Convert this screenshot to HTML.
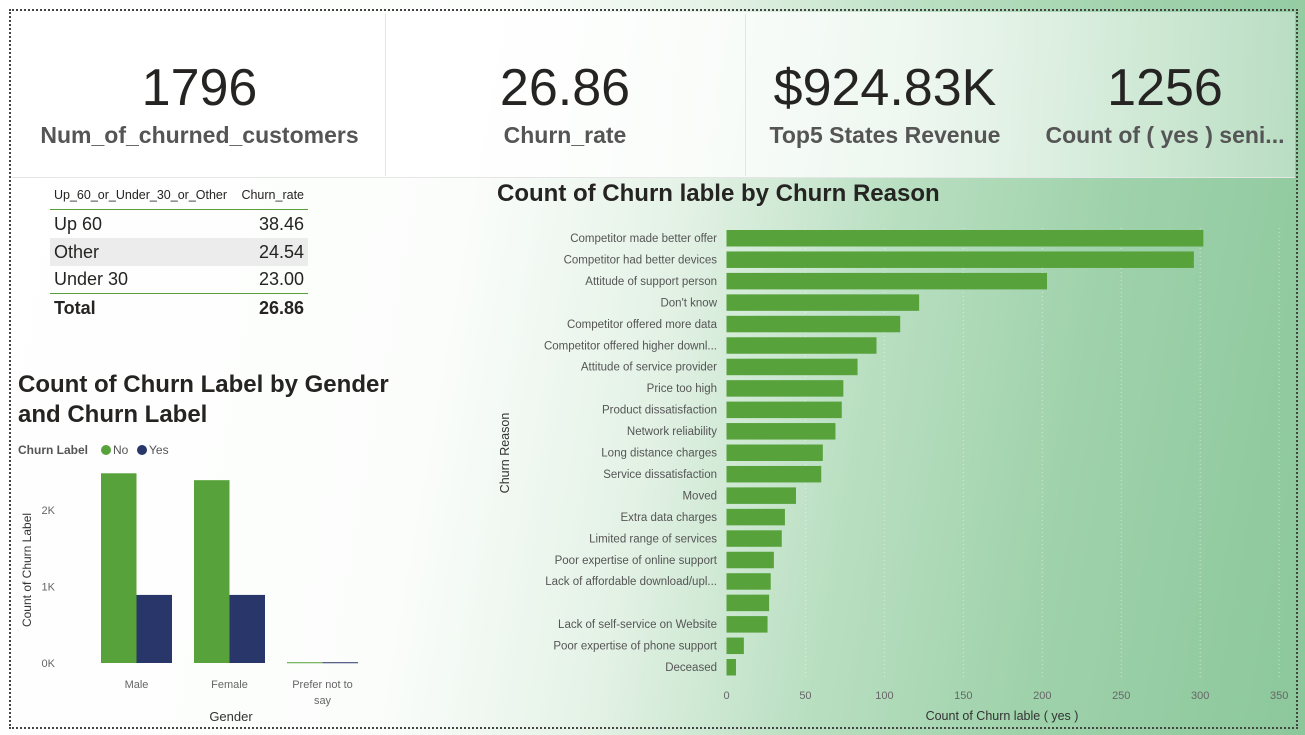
<!DOCTYPE html>
<html><head><meta charset="utf-8"><style>
*{margin:0;padding:0;box-sizing:border-box}
body{width:1305px;height:735px;overflow:hidden;font-family:"Liberation Sans",sans-serif;position:relative;
background:linear-gradient(100deg,#ffffff 0%,#fbfdfb 35%,#e4f2e6 50%,#b9dfc1 65%,#9fd2ab 80%,#8cc79b 100%);}
.frame{position:absolute;left:9px;top:9px;width:1289px;height:720px;border:2px dotted #444;}
.kpi{position:absolute;top:12px;height:165px;text-align:center}
.kv{position:absolute;top:46px;width:100%;font-size:52px;color:#252423;letter-spacing:0px}
.kl{position:absolute;top:110px;width:100%;font-size:23px;font-weight:bold;color:#555}
.sep{position:absolute;top:14px;width:1px;height:162px;background:#e5e5e5}
.tbl{position:absolute;left:50px;top:180px;width:258px;font-size:18px;color:#252423}
.tbl .r{height:28px;display:flex;justify-content:space-between;align-items:center;padding:0 4px}
.title{position:absolute;font-weight:bold;color:#252423;font-size:24px}
</style></head><body>
<div class="frame"></div>
<div style="position:absolute;left:12px;top:12px;width:1283px;height:165px;background:linear-gradient(90deg,rgba(255,255,255,.95),rgba(255,255,255,.75) 70%,rgba(255,255,255,.35))"></div>
<div class="kpi" style="left:12px;width:375px"><div class="kv">1796</div><div class="kl">Num_of_churned_customers</div></div>
<div class="sep" style="left:385px"></div>
<div class="kpi" style="left:385px;width:360px"><div class="kv">26.86</div><div class="kl">Churn_rate</div></div>
<div class="sep" style="left:745px"></div>
<div class="kpi" style="left:745px;width:280px"><div class="kv">$924.83K</div><div class="kl">Top5 States Revenue</div></div>
<div class="kpi" style="left:1025px;width:280px"><div class="kv">1256</div><div class="kl">Count of ( yes ) seni...</div></div>
<div style="position:absolute;left:12px;top:177px;width:1283px;height:1px;background:#e5e5e5"></div>

<div class="tbl">
<div class="r" style="font-size:12.5px;border-bottom:1px solid #5a9e3a;height:30px"><span>Up_60_or_Under_30_or_Other</span><span>Churn_rate</span></div>
<div class="r"><span>Up 60</span><span>38.46</span></div>
<div class="r" style="background:#ececec"><span>Other</span><span>24.54</span></div>
<div class="r" style="border-bottom:1px solid #5a9e3a"><span>Under 30</span><span>23.00</span></div>
<div class="r" style="font-weight:bold"><span>Total</span><span>26.86</span></div>
</div>

<div class="title" style="left:18px;top:370px;line-height:30px">Count of Churn Label by Gender<br>and Churn Label</div>
<div class="title" style="left:497px;top:180px">Count of Churn lable by Churn Reason</div>

<svg id="g1" style="position:absolute;left:0;top:0" width="1305" height="735"></svg>
<script>
const genders=["Male","Female","Prefer not to say"];
const noVals=[2480,2390,10];
const yesVals=[890,890,10];
const gTicks=[0,1000,2000];
const reasons=["Competitor made better offer","Competitor had better devices","Attitude of support person","Don't know","Competitor offered more data","Competitor offered higher downl...","Attitude of service provider","Price too high","Product dissatisfaction","Network reliability","Long distance charges","Service dissatisfaction","Moved","Extra data charges","Limited range of services","Poor expertise of online support","Lack of affordable download/upl...","","Lack of self-service on Website","Poor expertise of phone support","Deceased"];
const reasonVals=[302,296,203,122,110,95,83,74,73,69,61,60,44,37,35,30,28,27,26,11,6];
const xTicks=[0,50,100,150,200,250,300,350];

const svg=document.getElementById('g1');const NS='http://www.w3.org/2000/svg';
function mk(t,a,txt){const e=document.createElementNS(NS,t);for(const k in a)e.setAttribute(k,a[k]);if(txt!==undefined)e.textContent=txt;svg.appendChild(e);return e;}
const F='Liberation Sans, sans-serif';
const gy=v=>663-v*0.0765;
gTicks.forEach(t=>{const e=mk('text',{x:55,y:gy(t)+4,'text-anchor':'end','font-size':11,fill:'#666','font-family':F},(t/1000)+'K');

});
genders.forEach((g,i)=>{const x0=101+i*93;
const b1=mk('rect',{x:x0,y:gy(noVals[i]),width:35.5,height:Math.max(1,663-gy(noVals[i])),fill:'#58a23c'});


const b2=mk('rect',{x:x0+35.5,y:gy(yesVals[i]),width:35.5,height:Math.max(1,663-gy(yesVals[i])),fill:'#283669'});


const words=g==="Prefer not to say"?["Prefer not to","say"]:[g];
words.forEach((w,j)=>{const t=mk('text',{x:x0+35.5,y:688+j*16,'text-anchor':'middle','font-size':11,fill:'#666','font-family':F},w);

});});
let e=mk('text',{x:231,y:721,'text-anchor':'middle','font-size':13,fill:'#333','font-family':F},'Gender');

e=mk('text',{x:31,y:570,'text-anchor':'middle','font-size':12,fill:'#333','font-family':F,transform:'rotate(-90 31 570)'},'Count of Churn Label');

e=mk('text',{x:18,y:454,'font-size':12,'font-weight':'bold',fill:'#555','font-family':F},'Churn Label');

e=mk('circle',{cx:106,cy:450,r:5,fill:'#58a23c'});
e=mk('text',{x:113,y:454,'font-size':12,fill:'#555','font-family':F},'No');
e=mk('circle',{cx:142,cy:450,r:5,fill:'#283669'});
e=mk('text',{x:149,y:454,'font-size':12,fill:'#555','font-family':F},'Yes');
const rx=v=>726.5+v*1.579;
xTicks.forEach(t=>{if(t>0){const l=mk('line',{x1:rx(t),x2:rx(t),y1:228,y2:678,stroke:'#fff','stroke-dasharray':'1,3','stroke-opacity':0.5});
}
const tx=mk('text',{x:rx(t),y:699,'text-anchor':'middle','font-size':11,fill:'#666','font-family':F},t);
});
reasons.forEach((r,i)=>{const cy=238+i*21.45;
const b=mk('rect',{x:rx(0),y:cy-8,width:rx(reasonVals[i])-rx(0),height:16.5,fill:'#58a23c'});


const t=mk('text',{x:717,y:cy+4,'text-anchor':'end','font-size':11.5,fill:'#555','font-family':F},r);

});
e=mk('text',{x:1002,y:720,'text-anchor':'middle','font-size':12.5,fill:'#333','font-family':F},'Count of Churn lable ( yes )');

e=mk('text',{x:509,y:453,'text-anchor':'middle','font-size':12.5,fill:'#333','font-family':F,transform:'rotate(-90 509 453)'},'Churn Reason');

</script>
</body></html>
